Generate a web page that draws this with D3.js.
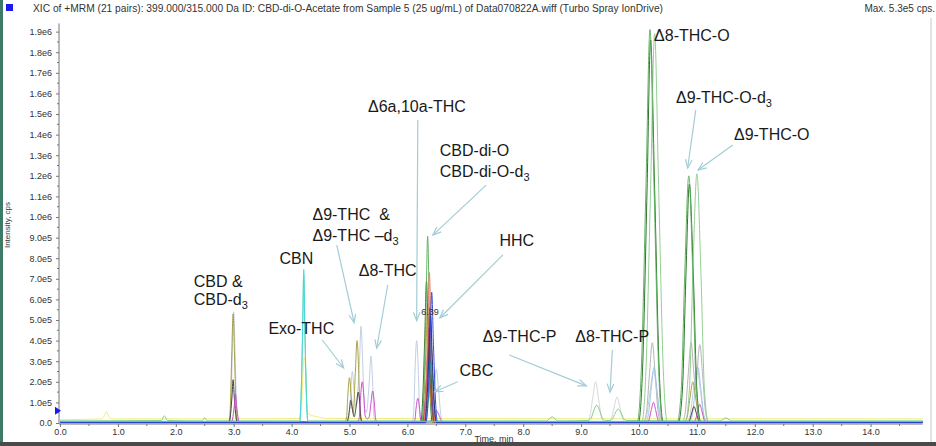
<!DOCTYPE html>
<html><head><meta charset="utf-8">
<script src="https://cdn.jsdelivr.net/npm/d3@7/dist/d3.min.js"></script>
<style>
html,body{margin:0;padding:0;background:#fff;}
svg{display:block;font-family:"Liberation Sans",Arial,sans-serif;}
</style></head>
<body>
<svg id="c" width="936" height="446"></svg>
<script>
// ---- DATA (time in min, intensity in units of 1e5 cps) ----
const titleText = "XIC of +MRM (21 pairs): 399.000/315.000 Da ID: CBD-di-O-Acetate from Sample 5 (25 ug/mL) of Data070822A.wiff (Turbo Spray IonDrive)";
const maxText = "Max. 5.3e5 cps.";
const xTicks = [0,1,2,3,4,5,6,7,8,9,10,11,12,13,14];
const yTicks = [0,1,2,3,4,5,6,7,8,9,10,11,12,13,14,15,16,17,18,19];

const yellow = [[0,0.16],[0.72,0.2],[0.77,0.38],[0.8,0.55],[0.83,0.38],[0.88,0.2],[2.9,0.2],[4.14,0.22],[4.17,0.65],[4.19,2.1],[4.22,3.2],[4.25,2.1],[4.27,0.7],[4.3,0.42],[4.45,0.3],[4.6,0.22],[14.9,0.2]];
const cyan = [[0,0.08],[4.14,0.08],[4.16,1.0],[4.19,4.5],[4.21,7.45],[4.23,4.5],[4.26,1.0],[4.28,0.08],[14.9,0.08]];
const greenP = [[0,0.1],[1.75,0.12],[1.8,0.35],[1.86,0.12],[2.45,0.1],[2.5,0.25],[2.55,0.1],[4.14,0.1],[4.16,1.0],[4.19,4.3],[4.21,7.2],[4.23,4.3],[4.26,1.0],[4.28,0.1],[8.4,0.1],[8.5,0.3],[8.6,0.1],[9.12,0.12],[9.17,0.22],[9.22,0.6],[9.27,0.87],[9.32,0.6],[9.37,0.22],[9.42,0.12],[9.49,0.12],[9.54,0.2],[9.59,0.48],[9.64,0.68],[9.69,0.48],[9.74,0.2],[9.79,0.12],[11.4,0.1],[11.5,0.25],[11.6,0.1],[14.9,0.1]];
const lightGray = [[0,0.05],[9.1,0.05],[9.15,0.3],[9.2,1.2],[9.25,2.0],[9.3,1.2],[9.35,0.3],[9.4,0.05],[9.47,0.05],[9.52,0.2],[9.57,0.76],[9.62,1.26],[9.67,0.76],[9.72,0.2],[9.77,0.05],[14.9,0.05]];
const olive = [[0,0.05],[2.915,0.05],[2.94,0.7],[2.965,3.2],[2.99,5.3],[3.015,3.2],[3.04,0.7],[3.065,0.05],[4.92,0.05],[4.95,0.3],[4.97,1.3],[5.0,2.2],[5.03,1.3],[5.065,0.5],[5.1,2.4],[5.13,4.0],[5.16,2.4],[5.18,0.55],[5.21,0.05],[6.25,0.05],[6.28,0.8],[6.32,3.5],[6.35,5.8],[6.38,3.5],[6.42,0.8],[6.45,0.05],[10.78,0.05],[10.83,0.27],[10.88,1.2],[10.93,2.0],[10.98,1.2],[11.03,0.27],[11.08,0.05],[14.9,0.05]];
const paleBlue = [[0,0.05],[2.925,0.05],[2.95,0.73],[2.975,3.25],[3.0,5.4],[3.025,3.25],[3.05,0.73],[3.075,0.05],[4.97,0.05],[5.0,0.4],[5.02,1.5],[5.05,2.5],[5.08,1.5],[5.11,0.8],[5.17,2.8],[5.2,4.7],[5.23,2.8],[5.26,0.7],[5.29,0.5],[5.34,1.95],[5.37,3.25],[5.4,1.95],[5.42,0.45],[5.45,0.05],[6.08,0.05],[6.11,0.55],[6.13,2.4],[6.16,4.0],[6.19,2.4],[6.21,0.55],[6.24,0.05],[6.38,0.05],[6.42,0.35],[6.46,1.55],[6.5,2.6],[6.54,1.55],[6.58,0.35],[6.62,0.05],[10.07,0.05],[10.13,0.34],[10.19,1.5],[10.25,2.5],[10.31,1.5],[10.37,0.34],[10.43,0.05],[10.82,0.05],[10.88,0.36],[10.94,1.6],[11.0,2.7],[11.06,1.6],[11.12,0.36],[11.18,0.05],[14.9,0.05]];
const darkGray = [[0,0.03],[2.92,0.03],[2.94,0.28],[2.97,1.26],[2.99,2.1],[3.01,1.26],[3.04,0.28],[3.06,0.03],[4.95,0.03],[4.97,0.15],[5.0,0.66],[5.02,1.1],[5.05,0.66],[5.08,0.3],[5.12,0.9],[5.15,1.5],[5.18,0.9],[5.2,0.2],[5.23,0.03],[6.28,0.03],[6.31,0.54],[6.35,2.4],[6.38,4.0],[6.41,2.4],[6.45,0.54],[6.48,0.03],[10.83,0.03],[10.87,0.11],[10.91,0.48],[10.95,0.8],[10.99,0.48],[11.03,0.11],[11.07,0.03],[14.9,0.03]];
const magenta = [[0,0.05],[2.96,0.05],[2.98,0.19],[3.01,0.84],[3.03,1.4],[3.05,0.84],[3.08,0.19],[3.1,0.05],[5.14,0.05],[5.17,0.27],[5.19,1.2],[5.22,2.0],[5.25,1.2],[5.27,0.35],[5.31,0.2],[5.34,0.3],[5.37,0.95],[5.4,1.55],[5.43,0.95],[5.45,0.21],[5.48,0.05],[6.1,0.05],[6.13,0.16],[6.15,0.72],[6.18,1.2],[6.21,0.72],[6.23,0.16],[6.26,0.05],[6.4,0.05],[6.45,0.36],[6.5,0.6],[6.55,0.36],[6.6,0.05],[10.13,0.05],[10.17,0.14],[10.21,0.6],[10.25,1.0],[10.29,0.6],[10.33,0.14],[10.37,0.05],[10.93,0.05],[10.97,0.12],[11.01,0.54],[11.05,0.9],[11.09,0.54],[11.13,0.12],[11.17,0.05],[14.9,0.05]];
const green = [[0,0.05],[6.25,0.05],[6.28,1.22],[6.32,5.44],[6.35,9.06],[6.38,5.44],[6.42,1.22],[6.45,0.05],[9.97,0.05],[10.04,2.58],[10.12,11.46],[10.19,19.1],[10.26,11.46],[10.34,2.58],[10.41,0.05],[10.66,0.05],[10.73,1.62],[10.79,7.2],[10.86,12.0],[10.93,7.2],[10.99,1.62],[11.06,0.05],[14.9,0.05]];
const greenLight = [[0,0.05],[10.05,0.05],[10.12,2.55],[10.2,11.34],[10.27,18.9],[10.34,11.34],[10.42,2.55],[10.49,0.05],[10.8,0.05],[10.87,1.63],[10.93,7.26],[11.0,12.1],[11.07,7.26],[11.13,1.63],[11.2,0.05],[14.9,0.05]];
const darkGreen = [[0,0.03],[6.23,0.03],[6.26,0.93],[6.3,4.14],[6.33,6.9],[6.36,4.14],[6.4,0.93],[6.43,0.03],[9.99,0.03],[10.06,2.5],[10.14,11.4],[10.2,18.6],[10.27,11.4],[10.35,2.5],[10.42,0.03],[10.68,0.03],[10.75,1.6],[10.81,7.1],[10.87,11.6],[10.94,7.1],[11.0,1.6],[11.07,0.03],[14.9,0.03]];
const salmon = [[0,0.03],[6.28,0.03],[6.31,0.99],[6.35,4.38],[6.38,7.3],[6.41,4.38],[6.45,0.99],[6.48,0.03],[14.9,0.03]];
const blue = [[0,0.02],[6.32,0.02],[6.35,0.86],[6.39,3.81],[6.42,6.35],[6.45,3.81],[6.49,0.86],[6.52,0.02],[14.9,0.02]];
const navy = [[0,0.02],[6.3,0.02],[6.33,0.7],[6.37,3.12],[6.4,5.2],[6.43,3.12],[6.47,0.7],[6.5,0.02],[14.9,0.02]];
const purple = [[0,0.03],[6.27,0.03],[6.3,0.62],[6.34,2.76],[6.37,4.6],[6.4,2.76],[6.44,0.62],[6.47,0.03],[14.9,0.03]];
const red = [[0,0.03],[6.29,0.03],[6.32,0.76],[6.36,3.36],[6.39,5.6],[6.42,3.36],[6.46,0.76],[6.49,0.03],[14.9,0.03]];
const brown = [[0,0.03],[6.26,0.03],[6.29,0.49],[6.33,2.16],[6.36,3.6],[6.39,2.16],[6.43,0.49],[6.46,0.03],[14.9,0.03]];
const gray = [[0,0.05],[10.08,0.05],[10.13,0.53],[10.18,2.34],[10.23,3.9],[10.28,2.34],[10.33,0.53],[10.38,0.05],[10.75,0.05],[10.8,0.53],[10.85,2.34],[10.9,3.9],[10.95,2.34],[10.98,1.6],[11.0,2.3],[11.05,3.8],[11.1,2.28],[11.15,0.51],[11.2,0.05],[14.9,0.05]];
const lightBlue = [[0,0.05],[10.11,0.05],[10.16,0.36],[10.21,1.62],[10.26,2.7],[10.31,1.62],[10.36,0.36],[10.41,0.05],[10.87,0.05],[10.92,0.36],[10.97,1.62],[11.02,2.7],[11.07,1.62],[11.12,0.36],[11.17,0.05],[14.9,0.05]];
const teal = [[0,0.03],[6.31,0.03],[6.34,0.4],[6.38,1.8],[6.41,3.0],[6.44,1.8],[6.48,0.4],[6.51,0.03],[14.9,0.03]];
const orange = [[0,0.03],[6.26,0.03],[6.29,0.32],[6.33,1.44],[6.36,2.4],[6.39,1.44],[6.43,0.32],[6.46,0.03],[14.9,0.03]];

const traces = [
  {d: yellow, c: "#eeec78"}, {d: lightGray, c: "#d4d4d4"}, {d: gray, c: "#b0b0b0"},
  {d: paleBlue, c: "#bccbe0"}, {d: lightBlue, c: "#a5c2e6"}, {d: greenP, c: "#7ccc7c"},
  {d: olive, c: "#a49c3c"}, {d: darkGray, c: "#3a3a3a"}, {d: magenta, c: "#c848c8"},
  {d: darkGreen, c: "#1d6e1d"}, {d: greenLight, c: "#8fcb8f"}, {d: green, c: "#5caf5c"},
  {d: orange, c: "#e0a030"}, {d: brown, c: "#8a5a2a"}, {d: purple, c: "#7b2fa8"},
  {d: red, c: "#d63a3a"}, {d: salmon, c: "#e5806b"}, {d: teal, c: "#2a9d8f"},
  {d: navy, c: "#1b2a80"}, {d: blue, c: "#2b47d6"}, {d: cyan, c: "#3fd8ea"}
];

// annotation labels: [time, intensity] of text start (baseline)
const labels = [
  {t: 2.31, v: 6.60, lines: [["CBD &"]]},
  {t: 2.31, v: 5.73, lines: [["CBD-d","3"]]},
  {t: 3.79, v: 7.72, lines: [["CBN"]]},
  {t: 3.60, v: 4.30, lines: [["Exo-THC"]]},
  {t: 4.36, v: 9.85, lines: [["Δ9-THC  &"]]},
  {t: 4.36, v: 8.83, lines: [["Δ9-THC –d","3"]]},
  {t: 5.16, v: 7.14, lines: [["Δ8-THC"]]},
  {t: 5.32, v: 15.10, lines: [["Δ6a,10a-THC"]]},
  {t: 6.56, v: 12.96, lines: [["CBD-di-O"]]},
  {t: 6.56, v: 11.94, lines: [["CBD-di-O-d","3"]]},
  {t: 7.59, v: 8.59, lines: [["HHC"]]},
  {t: 6.90, v: 2.28, lines: [["CBC"]]},
  {t: 7.30, v: 3.93, lines: [["Δ9-THC-P"]]},
  {t: 8.90, v: 3.93, lines: [["Δ8-THC-P"]]},
  {t: 10.26, v: 18.54, lines: [["Δ8-THC-O"]]},
  {t: 10.64, v: 15.54, lines: [["Δ9-THC-O-d","3"]]},
  {t: 11.64, v: 13.74, lines: [["Δ9-THC-O"]]}
];
// arrows: from [t,v] to [t,v]
const arrows = [
  [[4.53,4.03],[4.90,2.67]],
  [[4.78,8.64],[5.08,4.87]],
  [[5.66,6.70],[5.47,3.63]],
  [[6.18,14.71],[6.16,4.97]],
  [[7.36,11.55],[6.44,9.12]],
  [[7.65,8.16],[6.56,5.10]],
  [[6.87,2.00],[6.47,1.52]],
  [[7.76,3.30],[9.09,1.80]],
  [[9.54,3.54],[9.50,1.50]],
  [[10.98,15.19],[10.84,12.38]],
  [[11.62,13.50],[11.02,12.28]]
];
const peakTag = {t: 6.39, v: 5.25, text: "6.39"};

// ---- DRAW ----
const svg = d3.select("#c");
const x = d3.scaleLinear().domain([0, 14.9]).range([60, 922.7]);
const y = d3.scaleLinear().domain([0, 19.4]).range([423, 23.4]);

// frame bits
svg.append("rect").attr("x",0).attr("y",0).attr("width",3).attr("height",446).attr("fill","#3d7a68");
svg.append("rect").attr("x",0).attr("y",442).attr("width",936).attr("height",4).attr("fill","#4a4a4a");
svg.append("line").attr("x1",931).attr("x2",931).attr("y1",18).attr("y2",442).attr("stroke","#c8c8c8");

// title
svg.append("rect").attr("x",6).attr("y",4).attr("width",7).attr("height",7).attr("fill","#1a1aee");
svg.append("text").attr("x",33).attr("y",12).attr("font-size",10).attr("fill","#333")
  .attr("textLength",630).attr("lengthAdjust","spacingAndGlyphs").text(titleText);
svg.append("text").attr("x",935).attr("y",12).attr("font-size",10).attr("fill","#333")
  .attr("text-anchor","end").text(maxText);

// axes
const fmtY = v => v === 0 ? "0.0" : (v >= 10 ? (v/10).toFixed(1) + "e6" : v.toFixed(1) + "e5");
const yAxis = d3.axisLeft(y).tickValues(yTicks).tickSize(3).tickPadding(4).tickFormat(fmtY);
const gy = svg.append("g").attr("transform","translate(59,0)").call(yAxis);
gy.select(".domain").attr("d", `M0,${y(19.4)}V${y(0)+1}`).attr("stroke","#777");
gy.selectAll(".tick line").attr("stroke","#777");
gy.selectAll("text").attr("font-size",9).attr("fill","#333").attr("font-family","Liberation Sans, Arial, sans-serif");
const yMinor = d3.range(0.5, 19.4, 1);
svg.append("g").selectAll("line").data(yMinor).join("line")
  .attr("x1",57).attr("x2",59).attr("y1",d=>y(d)).attr("y2",d=>y(d)).attr("stroke","#777");

const xAxis = d3.axisBottom(x).tickValues(xTicks).tickSize(3).tickPadding(2).tickFormat(d3.format(".1f"));
const gx = svg.append("g").attr("transform","translate(0,424)").call(xAxis);
gx.select(".domain").attr("d", `M${x(0)-1},0H${x(14.9)}`).attr("stroke","#777");
gx.selectAll(".tick line").attr("stroke","#777");
gx.selectAll("text").attr("font-size",9).attr("fill","#333").attr("font-family","Liberation Sans, Arial, sans-serif");
const xMinor = d3.range(0.5, 14.9, 1);
svg.append("g").selectAll("line").data(xMinor).join("line")
  .attr("x1",d=>x(d)).attr("x2",d=>x(d)).attr("y1",424).attr("y2",426).attr("stroke","#777");

svg.append("text").attr("x",494).attr("y",442).attr("font-size",9).attr("fill","#333")
  .attr("text-anchor","middle").text("Time, min");
svg.append("text").attr("transform","translate(10,225) rotate(-90)").attr("font-size",8)
  .attr("fill","#333").attr("text-anchor","middle").text("Intensity, cps");

// threshold marker
svg.append("path").attr("d", `M55,${y(0.6)-4}L61,${y(0.6)}L55,${y(0.6)+4}Z`).attr("fill","#1a1aee");

// traces
const line = d3.line().x(d=>x(d[0])).y(d=>y(d[1])).curve(d3.curveMonotoneX);
svg.append("g").selectAll("path").data(traces).join("path")
  .attr("d", d=>line(d.d)).attr("fill","none").attr("stroke", d=>d.c)
  .attr("stroke-width",1).attr("stroke-opacity",0.95);

// peak tag
svg.append("text").attr("x",x(peakTag.t)).attr("y",y(peakTag.v)).attr("font-size",9)
  .attr("fill","#333").attr("text-anchor","middle").text(peakTag.text);

// arrows
const ac = "#a3cdd5";
const ga = svg.append("g");
arrows.forEach(a => {
  const x1 = x(a[0][0]), y1 = y(a[0][1]), x2 = x(a[1][0]), y2 = y(a[1][1]);
  ga.append("line").attr("x1",x1).attr("y1",y1).attr("x2",x2).attr("y2",y2)
    .attr("stroke",ac).attr("stroke-width",1.2);
  const ang = Math.atan2(y2-y1, x2-x1), L = 9, s = 0.38;
  const p1 = [x2 - L*Math.cos(ang - s), y2 - L*Math.sin(ang - s)];
  const p2 = [x2 - L*Math.cos(ang + s), y2 - L*Math.sin(ang + s)];
  ga.append("path").attr("d", `M${p1}L${x2},${y2}L${p2}`).attr("fill","none")
    .attr("stroke",ac).attr("stroke-width",1.2);
});

// labels
const gl = svg.append("g");
labels.forEach(l => {
  const t = gl.append("text").attr("x",x(l.t)).attr("y",y(l.v)).attr("font-size",16)
    .attr("fill","#1a1a1a").attr("xml:space","preserve").style("white-space","pre");
  l.lines.forEach(parts => {
    t.append("tspan").text(parts[0]);
    if (parts[1]) t.append("tspan").attr("font-size",11).attr("dy",4).text(parts[1]);
  });
});
</script>
</body></html>
